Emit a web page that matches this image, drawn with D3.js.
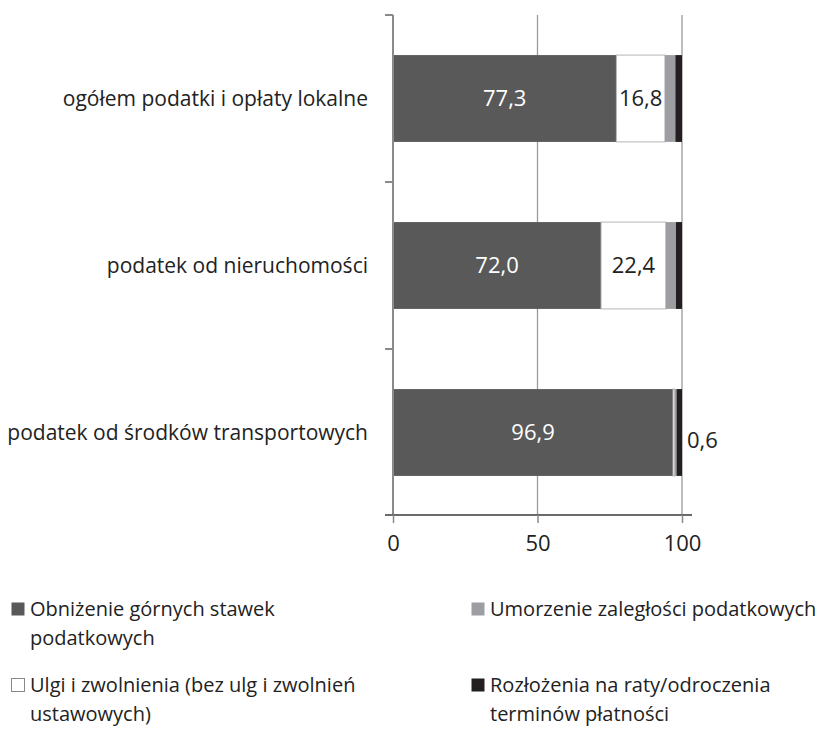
<!DOCTYPE html>
<html><head><meta charset="utf-8">
<script src="https://cdn.jsdelivr.net/npm/d3@7"></script>
<style>body{margin:0;background:#fff}text{font-family:"Open Sans",Lato,sans-serif}</style>
</head><body>
<svg id="c" width="831" height="729"></svg>
<script>
const categories = ["ogółem podatki i opłaty lokalne","podatek od nieruchomości","podatek od środków transportowych"];
const seriesNames = ["Obniżenie górnych stawek podatkowych","Ulgi i zwolnienia (bez ulg i zwolnień ustawowych)","Umorzenie zaległości podatkowych","Rozłożenia na raty/odroczenia terminów płatności"];
const obnizenie = [77.3, 72.0, 96.9];
const ulgi = [16.8, 22.4, 0.6];
const umorzenie = [3.6, 3.5, 0.6];
const rozlozenia = [2.3, 2.1, 1.9];
const xTicks = [0, 50, 100];
const colors = ["#595959","#ffffff","#9d9ea1","#231f20"];
const legendLines = [["Obniżenie górnych stawek","podatkowych"],["Ulgi i zwolnienia (bez ulg i zwolnień","ustawowych)"],["Umorzenie zaległości podatkowych"],["Rozłożenia na raty/odroczenia","terminów płatności"]];

const svg = d3.select("#c");
const x = d3.scaleLinear().domain([0,100]).range([393,682]);
const y = d3.scaleBand().domain(categories).range([15,516]).paddingInner(0.48).paddingOuter(0.24);

// gridlines
svg.append("g").selectAll("line").data(xTicks.slice(1)).join("line")
  .attr("x1",d=>x(d)).attr("x2",d=>x(d)).attr("y1",15).attr("y2",516)
  .attr("stroke","#9a9a9a").attr("stroke-width",1.3);

const table = categories.map((c,i)=>({cat:c, vals:[obnizenie[i],ulgi[i],umorzenie[i],rozlozenia[i]]}));
const stack = d3.stack().keys([0,1,2,3]).value((d,k)=>d.vals[k]);
const layers = stack(table);
svg.append("g").selectAll("g").data(layers).join("g")
  .attr("fill",(d,i)=>colors[i])
  .attr("stroke",(d,i)=>i===1?"#b5b5b5":"none")
  .attr("stroke-width",1)
  .selectAll("rect").data(d=>d).join("rect")
  .attr("x",d=>x(d[0])).attr("width",d=>x(d[1])-x(d[0]))
  .attr("y",d=>y(d.data.cat)).attr("height",y.bandwidth());

// value labels
const fmt = v => d3.format(".1f")(v).replace(".",",");
const lab = svg.append("g").attr("font-size",22);
table.forEach((d,i)=>{
  const cy = y(d.cat)+y.bandwidth()/2;
  lab.append("text").attr("x",x(d.vals[0]/2)).attr("y",cy).attr("dy","0.35em")
    .attr("text-anchor","middle").attr("fill","#fff").text(fmt(d.vals[0]));
  const s = d.vals[0], e = d.vals[0]+d.vals[1];
  if (d.vals[1] > 5) {
    lab.append("text").attr("x",x((s+e)/2)).attr("y",cy).attr("dy","0.35em")
      .attr("text-anchor","middle").attr("fill","#222").text(fmt(d.vals[1]));
  } else {
    lab.append("text").attr("x",x(100)+5).attr("y",cy+8).attr("dy","0.35em")
      .attr("text-anchor","start").attr("fill","#222").text(fmt(d.vals[1]));
  }
});

// left axis
const yAxisG = svg.append("g");
yAxisG.append("line").attr("x1",393).attr("x2",393).attr("y1",15).attr("y2",516).attr("stroke","#8a8a8e").attr("stroke-width",2);
const bounds = d3.range(categories.length).map(i=>15+i*(501/categories.length));
yAxisG.selectAll(".tk").data(bounds).join("line").attr("x1",385).attr("x2",393)
  .attr("y1",d=>d).attr("y2",d=>d).attr("stroke","#8a8a8e").attr("stroke-width",2);
yAxisG.selectAll("text").data(categories).join("text")
  .attr("x",368).attr("y",d=>y(d)+y.bandwidth()/2).attr("dy","0.35em")
  .attr("text-anchor","end").attr("font-size",21).attr("fill","#222").text(d=>d);

// bottom axis
const xAxis = d3.axisBottom(x).tickValues(xTicks).tickSize(8).tickPadding(12);
const gx = svg.append("g").attr("transform","translate(0,515)").call(xAxis);
gx.select(".domain").attr("d","M385,0H692").attr("stroke","#6a6a6a").attr("stroke-width",2);
gx.selectAll(".tick line").attr("stroke","#8a8a8e").attr("stroke-width",1.5);
gx.selectAll(".tick text").attr("font-size",22).attr("fill","#222").attr("font-family","'Open Sans',Lato,sans-serif");

// legend (baselines)
const legPos = [[11,616],[11,692],[471,616],[471,692]];
const lg = svg.append("g");
legendLines.forEach((lines,i)=>{
  const [lx,ly] = legPos[i];
  lg.append("rect").attr("x",lx+0.5).attr("y",ly-13.5).attr("width",13).attr("height",13)
    .attr("fill",colors[i]).attr("stroke",i===1?"#888":"none");
  lines.forEach((t,j)=>{
    lg.append("text").attr("x",lx+19).attr("y",ly+j*29)
      .attr("font-size",20).attr("fill","#222").text(t);
  });
});
</script>
</body></html>
